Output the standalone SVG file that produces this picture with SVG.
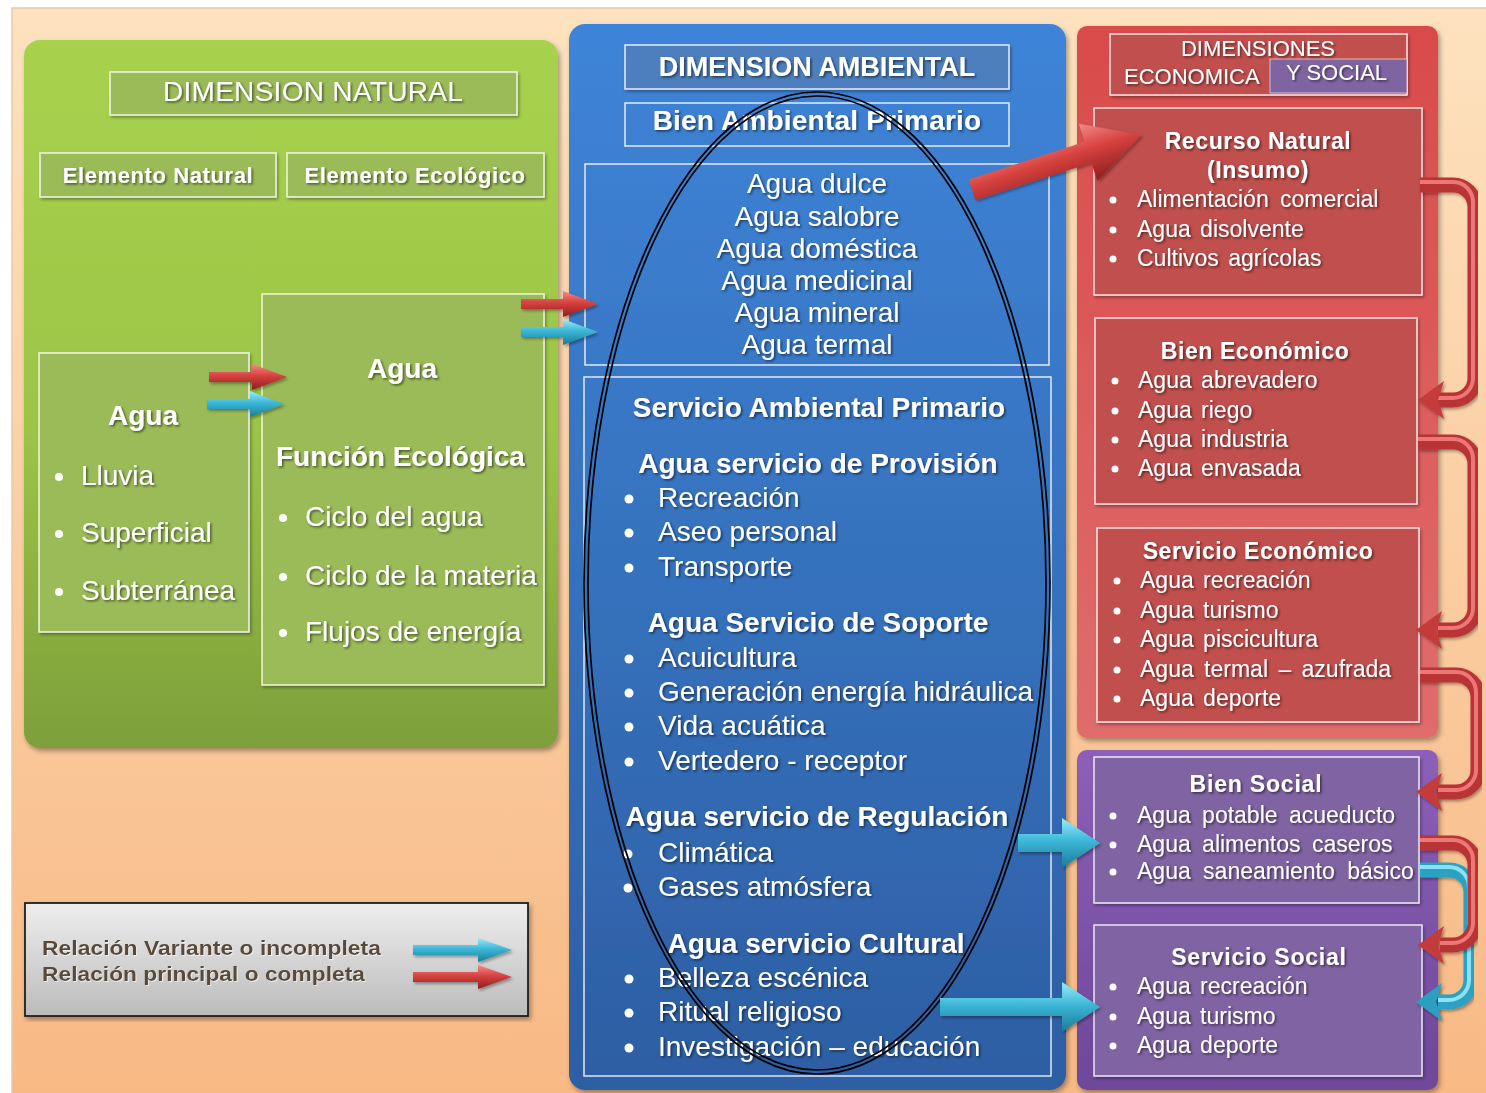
<svg xmlns="http://www.w3.org/2000/svg" width="1486" height="1093" viewBox="0 0 1486 1093">
<defs>
<linearGradient id="bg" x1="0" y1="0" x2="0" y2="1"><stop offset="0" stop-color="#FDE2BF"/><stop offset="1" stop-color="#F8B985"/></linearGradient>
<linearGradient id="gGreen" x1="0" y1="0" x2="0" y2="1"><stop offset="0" stop-color="#A8D24E"/><stop offset="0.55" stop-color="#9CC447"/><stop offset="1" stop-color="#7E9F3A"/></linearGradient>
<linearGradient id="gBlue" x1="0" y1="0" x2="0" y2="1"><stop offset="0" stop-color="#3E84D8"/><stop offset="0.5" stop-color="#3672BE"/><stop offset="1" stop-color="#2D5EA3"/></linearGradient>
<linearGradient id="gRed" x1="0" y1="0" x2="0" y2="1"><stop offset="0" stop-color="#D94B4B"/><stop offset="1" stop-color="#E06C6C"/></linearGradient>
<linearGradient id="gPurple" x1="0" y1="0" x2="0" y2="1"><stop offset="0" stop-color="#8C5FB8"/><stop offset="1" stop-color="#6E4899"/></linearGradient>
<linearGradient id="gLegend" x1="0" y1="0" x2="0" y2="1"><stop offset="0" stop-color="#EEEEEE"/><stop offset="1" stop-color="#BBBBBB"/></linearGradient>
<linearGradient id="aRed" x1="0" y1="0" x2="0" y2="1"><stop offset="0" stop-color="#F28B8B"/><stop offset="0.45" stop-color="#D7423F"/><stop offset="1" stop-color="#8E1F1F"/></linearGradient>
<linearGradient id="aCyan" x1="0" y1="0" x2="0" y2="1"><stop offset="0" stop-color="#9BEAF9"/><stop offset="0.45" stop-color="#3DB8D8"/><stop offset="1" stop-color="#1A7B97"/></linearGradient>
<filter id="ds" x="-5%" y="-5%" width="110%" height="110%"><feDropShadow dx="2" dy="3" stdDeviation="2.5" flood-color="#000" flood-opacity="0.35"/></filter>
<filter id="ds2" x="-5%" y="-5%" width="110%" height="115%"><feDropShadow dx="1.5" dy="2" stdDeviation="1.5" flood-color="#000" flood-opacity="0.35"/></filter>
<filter id="ts" x="-5%" y="-20%" width="110%" height="150%"><feDropShadow dx="1.5" dy="1.5" stdDeviation="1" flood-color="#000" flood-opacity="0.55"/></filter>
<filter id="ts2" x="-5%" y="-20%" width="110%" height="150%"><feDropShadow dx="1" dy="1" stdDeviation="0.6" flood-color="#FFFFFF" flood-opacity="0.6"/></filter>
<style>
.t{font-family:'Liberation Sans',Arial,sans-serif;fill:#FFFFFF;filter:url(#ts)}
.b{font-weight:bold}
.r28{font-size:28px}
.r23{font-size:23px}
.m{text-anchor:middle}
.box{stroke:#FFFFFF;stroke-opacity:0.85;stroke-width:1.5}
.dot{fill:#FFFFFF}
.tubeR{fill:none;stroke:#B93434;stroke-width:15}
.tubeRh{fill:none;stroke:#EE7676;stroke-width:4}
.tubeC{fill:none;stroke:#2AA2C3;stroke-width:15}
.tubeCh{fill:none;stroke:#8CE2F4;stroke-width:4}
.headR{fill:#C43A3A}
.headC{fill:#2C9FC0}
.legend{font-family:'Liberation Sans',Arial,sans-serif;font-weight:bold;font-size:20px;fill:#594A3B;filter:url(#ts2)}
</style>
</defs>

<rect x="0" y="0" width="1486" height="1093" fill="#FFFFFF"/>
<rect x="12" y="8" width="1480" height="1090" fill="url(#bg)" stroke="#E9C9A4" stroke-width="1.5"/>

<!-- Green panel: Dimension Natural -->
<g id="dimension-natural">
<rect x="24" y="40" width="534" height="708" rx="16" fill="url(#gGreen)" filter="url(#ds)"/>
<rect x="110" y="72" width="407" height="43" fill="#9BBB59" class="box" filter="url(#ds2)"/>
<text class="t r28" x="313" y="101" text-anchor="middle" letter-spacing="0.3">DIMENSION NATURAL</text>
</g>
<g id="elemento-natural">
<rect x="40" y="153" width="236" height="44" fill="#9BBB59" class="box" filter="url(#ds2)"/>
<text class="t b" font-size="22" x="158" y="183" text-anchor="middle" letter-spacing="0.6">Elemento Natural</text>
</g>
<g id="elemento-ecologico">
<rect x="287" y="153" width="257" height="44" fill="#9BBB59" class="box" filter="url(#ds2)"/>
<text class="t b" font-size="22" x="415" y="183" text-anchor="middle" letter-spacing="0.6">Elemento Ecológico</text>
</g>
<g id="agua-natural">
<rect x="39" y="353" width="210" height="279" fill="#9BBB59" class="box" filter="url(#ds2)"/>
<text class="t b r28 m" x="143" y="425">Agua</text>
<circle class="dot" cx="59" cy="477" r="4"/><text class="t r28" x="81" y="485">Lluvia</text>
<circle class="dot" cx="59" cy="534" r="4"/><text class="t r28" x="81" y="542">Superficial</text>
<circle class="dot" cx="59" cy="592" r="4"/><text class="t r28" x="81" y="600">Subterránea</text>
</g>
<g id="agua-funcion-ecologica">
<rect x="262" y="294" width="282" height="391" fill="#9BBB59" class="box" filter="url(#ds2)"/>
<text class="t b r28 m" x="402" y="378">Agua</text>
<text class="t b r28" x="276" y="466">Función Ecológica</text>
<circle class="dot" cx="283" cy="518" r="4"/><text class="t r28" x="305" y="526">Ciclo del agua</text>
<circle class="dot" cx="283" cy="577" r="4"/><text class="t r28" x="305" y="585">Ciclo de la materia</text>
<circle class="dot" cx="283" cy="633" r="4"/><text class="t r28" x="305" y="641">Flujos de energía</text>
</g>

<!-- Blue panel: Dimension Ambiental -->
<g id="dimension-ambiental">
<rect x="569" y="24" width="497" height="1066" rx="16" fill="url(#gBlue)" filter="url(#ds)"/>
<rect x="625" y="45" width="384" height="44" fill="#4D7FBE" class="box" filter="url(#ds2)"/>
<text class="t b m" font-size="27" x="817" y="76">DIMENSION AMBIENTAL</text>
</g>
<g id="bien-ambiental-primario">
<rect x="625" y="103" width="384" height="43" fill="none" class="box"/>
<text class="t b r28 m" x="817" y="130" letter-spacing="0.2">Bien Ambiental Primario</text>
<rect x="585" y="164" width="464" height="201" fill="none" class="box"/>
<text class="t r28 m" x="817" y="193">Agua dulce</text>
<text class="t r28 m" x="817" y="226">Agua salobre</text>
<text class="t r28 m" x="817" y="258">Agua doméstica</text>
<text class="t r28 m" x="817" y="290">Agua medicinal</text>
<text class="t r28 m" x="817" y="322">Agua mineral</text>
<text class="t r28 m" x="817" y="354">Agua termal</text>
</g>
<g id="servicio-ambiental-primario">
<rect x="584" y="377" width="467" height="699" fill="none" class="box"/>
<text class="t b r28 m" x="819" y="417">Servicio Ambiental Primario</text>
<text class="t b r28 m" x="818" y="473">Agua servicio de Provisión</text>
<circle class="dot" cx="629" cy="499" r="4.5"/><text class="t r28" x="658" y="507">Recreación</text>
<circle class="dot" cx="629" cy="533" r="4.5"/><text class="t r28" x="658" y="541">Aseo personal</text>
<circle class="dot" cx="629" cy="568" r="4.5"/><text class="t r28" x="658" y="576">Transporte</text>
<text class="t b r28 m" x="818" y="632">Agua Servicio de Soporte</text>
<circle class="dot" cx="629" cy="659" r="4.5"/><text class="t r28" x="658" y="667">Acuicultura</text>
<circle class="dot" cx="629" cy="693" r="4.5"/><text class="t r28" x="658" y="701">Generación energía hidráulica</text>
<circle class="dot" cx="629" cy="727" r="4.5"/><text class="t r28" x="658" y="735">Vida acuática</text>
<circle class="dot" cx="629" cy="762" r="4.5"/><text class="t r28" x="658" y="770">Vertedero - receptor</text>
<text class="t b r28 m" x="817" y="826">Agua servicio de Regulación</text>
<circle class="dot" cx="628" cy="854" r="4.5"/><text class="t r28" x="658" y="862">Climática</text>
<circle class="dot" cx="628" cy="888" r="4.5"/><text class="t r28" x="658" y="896">Gases atmósfera</text>
<text class="t b r28 m" x="816" y="953">Agua servicio Cultural</text>
<circle class="dot" cx="629" cy="979" r="4.5"/><text class="t r28" x="658" y="987">Belleza escénica</text>
<circle class="dot" cx="629" cy="1013" r="4.5"/><text class="t r28" x="658" y="1021">Ritual religioso</text>
<circle class="dot" cx="629" cy="1048" r="4.5"/><text class="t r28" x="658" y="1056">Investigación – educación</text>
</g>
<g id="agua-ellipse" fill="none" stroke="#000000" stroke-width="1.7">
<ellipse cx="817" cy="583" rx="233" ry="491"/>
<ellipse cx="817" cy="583" rx="229" ry="487"/>
</g>

<!-- Red panel: Dimensiones Economica y Social -->
<g id="dimension-economica-social">
<rect x="1077" y="26" width="361" height="712" rx="10" fill="url(#gRed)" filter="url(#ds)"/>
<rect x="1110" y="34" width="297" height="61" fill="#C0504D" class="box" filter="url(#ds2)"/>
<rect x="1270" y="59" width="137" height="34" fill="#8064A2" stroke="#FFFFFF" stroke-opacity="0.6" stroke-width="1"/>
<text class="t" font-size="22" x="1258" y="56" text-anchor="middle">DIMENSIONES</text>
<text class="t" font-size="22" x="1124" y="84">ECONOMICA</text>
<text class="t" font-size="22" x="1286" y="80">Y SOCIAL</text>
</g>
<g id="recurso-natural">
<rect x="1094" y="108" width="328" height="187" fill="#C0504D" class="box" filter="url(#ds2)"/>
<text class="t b r23 m" x="1258" y="149" letter-spacing="0.6">Recurso Natural</text>
<text class="t b r23 m" x="1258" y="178" letter-spacing="0.6">(Insumo)</text>
<circle class="dot" cx="1113" cy="200" r="3.5"/><text class="t r23" x="1137" y="207" word-spacing="5">Alimentación comercial</text>
<circle class="dot" cx="1113" cy="230" r="3.5"/><text class="t r23" x="1137" y="237" word-spacing="3">Agua disolvente</text>
<circle class="dot" cx="1113" cy="259" r="3.5"/><text class="t r23" x="1137" y="266" word-spacing="3">Cultivos agrícolas</text>
</g>
<g id="bien-economico">
<rect x="1095" y="318" width="322" height="186" fill="#C0504D" class="box" filter="url(#ds2)"/>
<text class="t b r23 m" x="1255" y="359" letter-spacing="0.6">Bien Económico</text>
<circle class="dot" cx="1115" cy="381" r="3.5"/><text class="t r23" x="1138" y="388" word-spacing="3">Agua abrevadero</text>
<circle class="dot" cx="1115" cy="411" r="3.5"/><text class="t r23" x="1138" y="418" word-spacing="3">Agua riego</text>
<circle class="dot" cx="1115" cy="440" r="3.5"/><text class="t r23" x="1138" y="447" word-spacing="3">Agua industria</text>
<circle class="dot" cx="1115" cy="469" r="3.5"/><text class="t r23" x="1138" y="476" word-spacing="3">Agua envasada</text>
</g>
<g id="servicio-economico">
<rect x="1097" y="528" width="322" height="194" fill="#C0504D" class="box" filter="url(#ds2)"/>
<text class="t b r23 m" x="1258" y="559" letter-spacing="0.6">Servicio Económico</text>
<circle class="dot" cx="1117" cy="581" r="3.5"/><text class="t r23" x="1140" y="588" word-spacing="3">Agua recreación</text>
<circle class="dot" cx="1117" cy="611" r="3.5"/><text class="t r23" x="1140" y="618" word-spacing="3">Agua turismo</text>
<circle class="dot" cx="1117" cy="640" r="3.5"/><text class="t r23" x="1140" y="647" word-spacing="3">Agua piscicultura</text>
<circle class="dot" cx="1117" cy="670" r="3.5"/><text class="t r23" x="1140" y="677" word-spacing="4">Agua termal – azufrada</text>
<circle class="dot" cx="1117" cy="699" r="3.5"/><text class="t r23" x="1140" y="706" word-spacing="3">Agua deporte</text>
</g>

<!-- Purple panel -->
<g id="dimension-social">
<rect x="1077" y="750" width="361" height="340" rx="10" fill="url(#gPurple)" filter="url(#ds)"/>
</g>
<g id="bien-social">
<rect x="1094" y="757" width="325" height="146" fill="#8064A2" class="box" filter="url(#ds2)"/>
<text class="t b r23 m" x="1256" y="792" letter-spacing="0.8">Bien Social</text>
<circle class="dot" cx="1113" cy="816" r="3.5"/><text class="t r23" x="1137" y="823" word-spacing="5">Agua potable acueducto</text>
<circle class="dot" cx="1113" cy="845" r="3.5"/><text class="t r23" x="1137" y="852" word-spacing="5">Agua alimentos caseros</text>
<circle class="dot" cx="1113" cy="872" r="3.5"/><text class="t r23" x="1137" y="879" word-spacing="6">Agua saneamiento básico</text>
</g>
<g id="servicio-social">
<rect x="1094" y="925" width="328" height="151" fill="#8064A2" class="box" filter="url(#ds2)"/>
<text class="t b r23 m" x="1259" y="965" letter-spacing="0.8">Servicio Social</text>
<circle class="dot" cx="1113" cy="987" r="3.5"/><text class="t r23" x="1137" y="994" word-spacing="3">Agua recreación</text>
<circle class="dot" cx="1113" cy="1017" r="3.5"/><text class="t r23" x="1137" y="1024" word-spacing="3">Agua turismo</text>
<circle class="dot" cx="1113" cy="1046" r="3.5"/><text class="t r23" x="1137" y="1053" word-spacing="3">Agua deporte</text>
</g>

<!-- Legend -->
<g id="legend">
<rect x="25" y="903" width="503" height="113" fill="url(#gLegend)" stroke="#1E1E1E" stroke-width="1.8" filter="url(#ds)"/>
<text class="legend" x="42" y="955" textLength="339" lengthAdjust="spacingAndGlyphs">Relación Variante o incompleta</text>
<text class="legend" x="42" y="981" textLength="323" lengthAdjust="spacingAndGlyphs">Relación principal o completa</text>
<path d="M413,945 H478 V938 L512,950 L478,962 V955 H413 Z" fill="url(#aCyan)" filter="url(#ds2)"/>
<path d="M413,972 H478 V965 L512,977 L478,989 V982 H413 Z" fill="url(#aRed)" filter="url(#ds2)"/>
</g>

<!-- Connectors -->
<g id="connectors">
<path d="M209,372 H252 V364 L287,377 L252,390 V382 H209 Z" fill="url(#aRed)" filter="url(#ds2)"/>
<path d="M207,399 H250 V391 L284,404 L250,417 V409 H207 Z" fill="url(#aCyan)" filter="url(#ds2)"/>
<path d="M521,299 H563 V291 L598,304 L563,317 V309 H521 Z" fill="url(#aRed)" filter="url(#ds2)"/>
<path d="M521,327 H563 V319 L598,332 L563,345 V337 H521 Z" fill="url(#aCyan)" filter="url(#ds2)"/>
<path transform="translate(972,190) rotate(-18)" d="M0,-11 H122 V-30 L178,0 L122,30 V11 H0 Z" fill="url(#aRed)" filter="url(#ds2)"/>
<path d="M1018,834 H1062 V818 L1100,843 L1062,868 V852 H1018 Z" fill="url(#aCyan)" filter="url(#ds2)"/>
<path d="M940,998 H1062 V982 L1100,1007 L1062,1032 V1016 H940 Z" fill="url(#aCyan)" filter="url(#ds2)"/>

<g filter="url(#ds2)">
<path class="tubeR" d="M1420,185 H1453 A22,22 0 0 1 1475,207 V378 A22,22 0 0 1 1453,400 H1438"/>
<path class="tubeRh" d="M1420,182 H1453 A20,20 0 0 1 1473,202 V378 A20,20 0 0 1 1453,398 H1438"/>
<path class="headR" d="M1418,400 L1444,381 L1438,400 L1444,419 Z"/>
</g>
<g filter="url(#ds2)">
<path class="tubeR" d="M1418,442 H1453 A22,22 0 0 1 1475,464 V608 A22,22 0 0 1 1453,630 H1438"/>
<path class="tubeRh" d="M1418,439 H1453 A20,20 0 0 1 1473,459 V608 A20,20 0 0 1 1453,628 H1438"/>
<path class="headR" d="M1416,630 L1442,611 L1436,630 L1442,649 Z"/>
</g>
<g filter="url(#ds2)">
<path class="tubeR" d="M1420,675 H1456 A22,22 0 0 1 1478,697 V770 A22,22 0 0 1 1456,792 H1438"/>
<path class="tubeRh" d="M1420,672 H1456 A20,20 0 0 1 1476,692 V770 A20,20 0 0 1 1456,790 H1438"/>
<path class="headR" d="M1416,792 L1442,773 L1436,792 L1442,811 Z"/>
</g>
<g filter="url(#ds2)">
<path class="tubeC" d="M1420,870 H1449 A22,22 0 0 1 1471,892 V980 A22,22 0 0 1 1449,1002 H1438"/>
<path class="tubeCh" d="M1420,867 H1449 A20,20 0 0 1 1469,887 V980 A20,20 0 0 1 1449,1000 H1438"/>
<path class="headC" d="M1416,1002 L1442,983 L1436,1002 L1442,1021 Z"/>
</g>
<g filter="url(#ds2)">
<path class="tubeR" d="M1420,843 H1453 A22,22 0 0 1 1475,865 V923 A22,22 0 0 1 1453,945 H1440"/>
<path class="tubeRh" d="M1420,840 H1453 A20,20 0 0 1 1473,860 V923 A20,20 0 0 1 1453,943 H1440"/>
<path class="headR" d="M1418,945 L1444,926 L1438,945 L1444,964 Z"/>
</g>
</g>
</svg>
